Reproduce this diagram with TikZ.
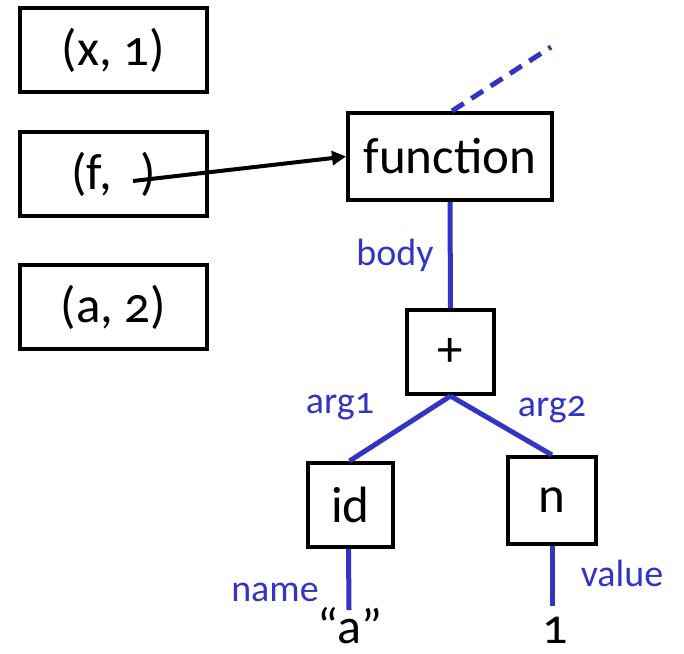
\documentclass[tikz,border=0pt]{standalone}
\usepackage{fontspec}
\setmainfont{Carlito}[Numbers=OldStyle]
\usetikzlibrary{arrows.meta}
\definecolor{edgeblue}{RGB}{52,52,196}
\tikzset{
  box/.style={draw=black, line width=4pt, inner sep=0pt, font=\fontsize{51}{60}\selectfont},
  edge/.style={draw=edgeblue, line width=5pt},
  lbl/.style={text=edgeblue, inner sep=0pt, font=\fontsize{38}{44}\selectfont},
  leaf/.style={inner sep=0pt, font=\fontsize{50}{60}\selectfont}
}
\begin{document}
\begin{tikzpicture}[x=1pt,y=-1pt]
\useasboundingbox (0,0) rectangle (684,653);
% environment boxes
\node[box, minimum width=187pt, minimum height=84pt] (b1) at (113.5,50) {(x, 1)};
\node[box, minimum width=187pt, minimum height=84pt] (b2) at (113.5,174) {(f,\hspace{0.55em})};
\node[box, minimum width=187pt, minimum height=84pt] (b3) at (113.5,307) {(a, 2)};
% tree
\node[box, minimum width=204pt, minimum height=87pt] (fn) at (450,156.5) {function};
\node[box, minimum width=87pt, minimum height=84pt] (plus) at (450.5,352) {+};
\node[box, minimum width=85pt, minimum height=84pt] (id) at (350.5,505) {id};
\node[box, minimum width=88pt, minimum height=87pt] (n) at (552,500.5) {n};
\coordinate (up) at (551,47);
\coordinate (nameend) at (349,610);
\coordinate (valend) at (552,606);
\coordinate (fstart) at (133,181);
\node[leaf, anchor=base] (aval) at (350,643) {“a”};
\node[leaf, anchor=base] (oneval) at (555,643) {1};
% edges
\draw[edge, dashed, dash pattern=on 14pt off 9pt] ([xshift=2pt]fn.north) -- (up);
\draw[edge] (fn.south) -- (plus.north);
\draw[edge] (plus.south) -- ([xshift=-1pt]id.north);
\draw[edge] (plus.south) -- (n.north);
\draw[edge] ([xshift=-2pt]id.south) -- (nameend);
\draw[edge] (n.south) -- (valend);
% pointer
\draw[line width=4pt, -{Triangle[length=14pt,width=14pt]}] (fstart) -- (fn.west);
% labels
\node[lbl] (lbody) at (395,255) {body};
\node[lbl] (larg1) at (340,407) {arg1};
\node[lbl] (larg2) at (552,410) {arg2};
\node[lbl] (lname) at (275,592) {name};
\node[lbl] (lvalue) at (622,573) {value};
\end{tikzpicture}
\end{document}
